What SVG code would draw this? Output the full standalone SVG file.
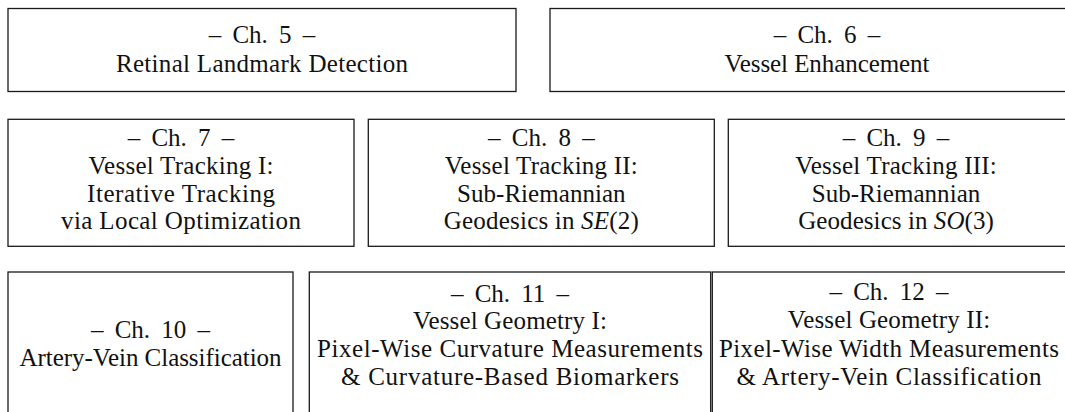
<svg xmlns="http://www.w3.org/2000/svg" width="1065" height="412" viewBox="0 0 1065 412">
<style>
.box{fill:#fff;stroke:#1a1a1a;stroke-width:1.3}
text{font-family:"Liberation Serif","DejaVu Serif",serif;font-size:25px;fill:#111;text-anchor:middle}
.h{word-spacing:5px}
.i{font-style:italic}
</style>
<rect width="1065" height="412" fill="#fff"/>
<g id="ch5"><rect class="box" x="8" y="8.5" width="508" height="83"/>
<text class="h" x="262" y="43.3">– Ch. 5 –</text><text x="262" y="71.7" textLength="292" lengthAdjust="spacing">Retinal Landmark Detection</text></g>
<g id="ch6"><rect class="box" x="550" y="8.5" width="560" height="83"/>
<text class="h" x="827" y="43.3">– Ch. 6 –</text><text x="827" y="71.7" textLength="205" lengthAdjust="spacing">Vessel Enhancement</text></g>
<g id="ch7"><rect class="box" x="8" y="119.3" width="346" height="127"/>
<text class="h" x="181" y="145.7">– Ch. 7 –</text><text x="181" y="174" textLength="185" lengthAdjust="spacing">Vessel Tracking I:</text><text x="181" y="201.7" textLength="188" lengthAdjust="spacing">Iterative Tracking</text><text x="181" y="229.3" textLength="240" lengthAdjust="spacing">via Local Optimization</text></g>
<g id="ch8"><rect class="box" x="368.3" y="119.3" width="346" height="127"/>
<text class="h" x="541.3" y="145.7">– Ch. 8 –</text><text x="541.3" y="174" textLength="193" lengthAdjust="spacing">Vessel Tracking II:</text><text x="541.3" y="201.7" textLength="168.6" lengthAdjust="spacing">Sub-Riemannian</text><text x="541.3" y="229.3" textLength="195" lengthAdjust="spacing">Geodesics in <tspan class="i">SE</tspan>(2)</text></g>
<g id="ch9"><rect class="box" x="728.3" y="119.3" width="380" height="127"/>
<text class="h" x="896" y="145.7">– Ch. 9 –</text><text x="896" y="174" textLength="201.6" lengthAdjust="spacing">Vessel Tracking III:</text><text x="896" y="201.7" textLength="168.6" lengthAdjust="spacing">Sub-Riemannian</text><text x="896" y="229.3" textLength="195.6" lengthAdjust="spacing">Geodesics in <tspan class="i">SO</tspan>(3)</text></g>
<g id="ch10"><rect class="box" x="8" y="272" width="285" height="160"/>
<text class="h" x="150.5" y="338.3">– Ch. 10 –</text><text x="150.5" y="366" textLength="262" lengthAdjust="spacing">Artery-Vein Classification</text></g>
<g id="ch11"><rect class="box" x="309.3" y="272" width="401.4" height="160"/>
<text class="h" x="510" y="301.7">– Ch. 11 –</text><text x="510" y="329.3" textLength="194" lengthAdjust="spacing">Vessel Geometry I:</text><text x="510" y="357.3" textLength="386" lengthAdjust="spacing">Pixel-Wise Curvature Measurements</text><text x="510" y="385" textLength="338" lengthAdjust="spacing">&amp; Curvature-Based Biomarkers</text></g>
<g id="ch12"><rect class="box" x="712.3" y="272" width="400" height="160"/>
<text class="h" x="889" y="300">– Ch. 12 –</text><text x="889" y="328.3" textLength="202.4" lengthAdjust="spacing">Vessel Geometry II:</text><text x="889" y="356.7" textLength="340" lengthAdjust="spacing">Pixel-Wise Width Measurements</text><text x="889" y="385" textLength="305" lengthAdjust="spacing">&amp; Artery-Vein Classification</text></g>
<g id="connectors"></g>
</svg>
